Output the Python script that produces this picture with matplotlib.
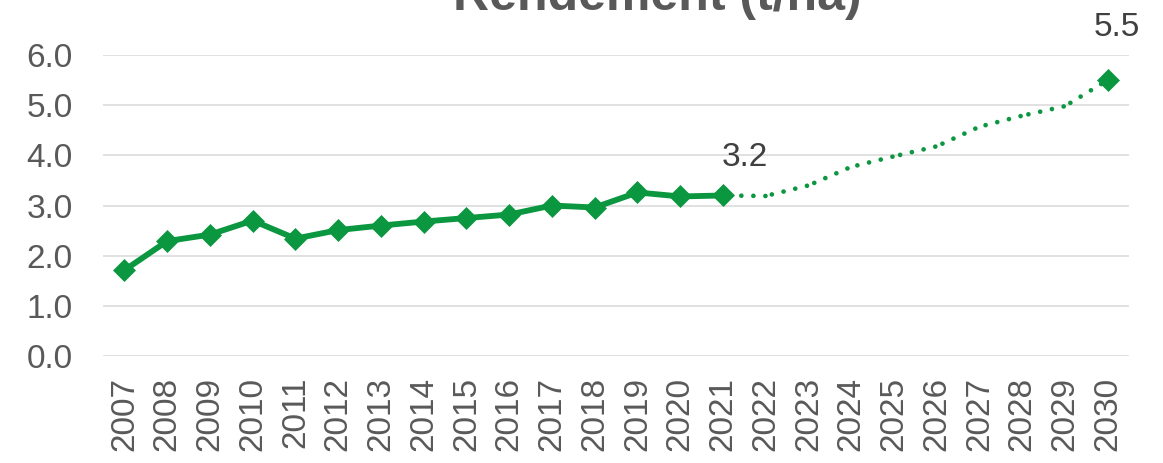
import matplotlib.pyplot as plt
from matplotlib.ticker import FormatStrFormatter

# Données
years = list(range(2007, 2031))
hist_years = list(range(2007, 2022))
hist_values = [1.71, 2.29, 2.42, 2.70, 2.34, 2.51, 2.60, 2.68, 2.75, 2.82, 3.00, 2.96, 3.26, 3.18, 3.20]
proj_years = list(range(2021, 2031))
proj_values = [3.20, 3.19, 3.40, 3.77, 3.98, 4.18, 4.57, 4.79, 4.98, 5.50]
labels = {2021: "3.2", 2030: "5.5"}
title = "Rendement (t/ha)"

green = "#0B9640"
grey_text = "#595959"

plt.rcParams['font.family'] = ['Liberation Sans', 'DejaVu Sans']

fig = plt.figure(figsize=(11.63, 4.63), dpi=100)
ax = fig.add_axes([0.0886, 0.2311, 0.9708 - 0.0886, 0.8812 - 0.2311])

pos = {y: i for i, y in enumerate(years)}

# projection en pointillés : un segment par année, comme Excel
for k in range(len(proj_years) - 1):
    xs = [pos[proj_years[k]], pos[proj_years[k + 1]]]
    ys = [proj_values[k], proj_values[k + 1]]
    ax.plot(xs, ys, color=green, lw=3.4, linestyle=(1.2, (0.001, 2.55)),
            dash_capstyle='round', zorder=3)
ax.plot(pos[proj_years[-1]], proj_values[-1], marker='D', ms=11.5, color=green,
        mew=0.5, zorder=4)

# historique
ax.plot([pos[y] for y in hist_years], hist_values, color=green, lw=4.2,
        marker='D', ms=11.5, mew=0.5, zorder=4)

# étiquettes de données
ax.annotate(labels[2021], (pos[2021], hist_values[-1]), xytext=(16, 21),
            textcoords='offset points', ha='center', va='baseline',
            fontsize=24, color='#404040')
ax.annotate(labels[2030], (pos[2030], proj_values[-1]), xytext=(6.5, 32),
            textcoords='offset points', ha='center', va='baseline',
            fontsize=24, color='#404040', annotation_clip=False)

ax.set_xlim(-0.5, len(years) - 0.5)
ax.set_ylim(0, 6)
ax.set_yticks([0, 1, 2, 3, 4, 5, 6])
ax.yaxis.set_major_formatter(FormatStrFormatter('%.1f'))
ax.set_xticks(range(len(years)))
ax.set_xticklabels([str(y) for y in years], rotation=90)
ax.tick_params(axis='both', length=0, labelsize=24, labelcolor=grey_text)
ax.tick_params(axis='y', pad=22)
ax.tick_params(axis='x', pad=15)

ax.grid(axis='y', color='#d9d9d9', lw=1.1)
ax.set_axisbelow(True)
for s in ax.spines.values():
    s.set_visible(False)

# titre coupé en haut, comme sur l'original
fig.text(0.565, 0.979, title, ha='center', va='baseline', fontsize=36,
         fontweight='bold', color=grey_text)

fig.savefig("out.png", dpi=100)
